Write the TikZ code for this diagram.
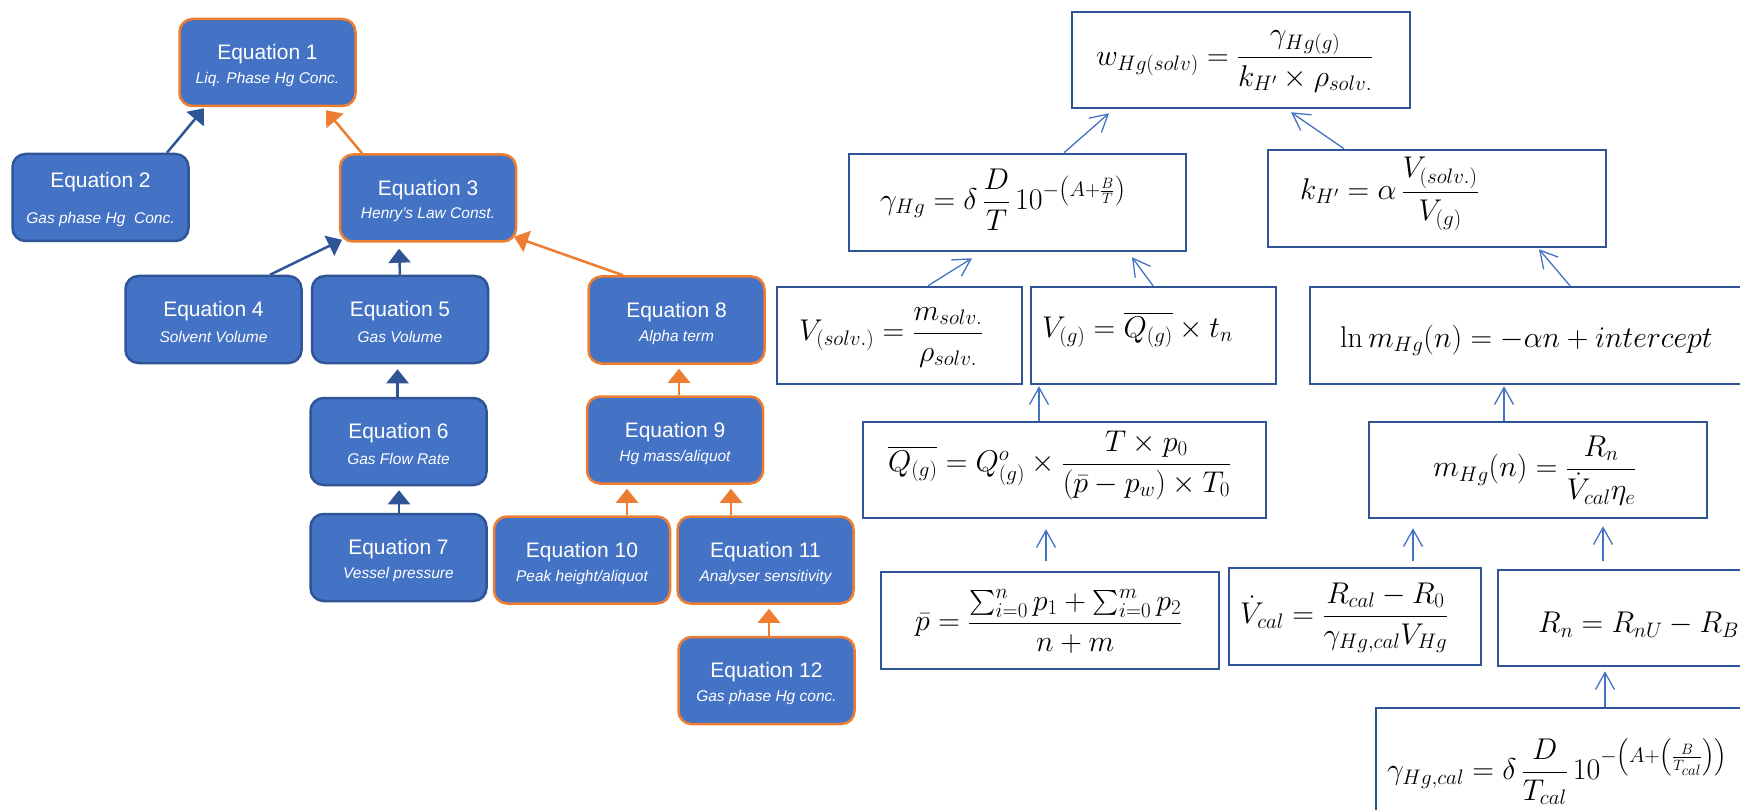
\RequirePackage{fix-cm}
\documentclass[tikz,border=0pt]{standalone}
\usepackage[no-math]{fontspec}
\newfontfamily\lsans{Liberation Sans}
\usepackage{amsmath}
\usetikzlibrary{arrows.meta,calc}
\definecolor{bfill}{HTML}{4472C4}
\definecolor{bdark}{HTML}{2F5597}
\definecolor{borange}{HTML}{ED7D31}
\definecolor{alight}{HTML}{4472C4}
\begin{document}
\begin{tikzpicture}[x=1pt,y=-1pt,
  lbox/.style={draw=bdark, fill=bfill, line width=2.5pt, rounded corners=13pt, minimum width=176pt, minimum height=87pt, inner sep=0pt},
  obox/.style={lbox, draw=borange},
  ttl/.style={text=white, font=\lsans\fontsize{21}{24}\selectfont, inner sep=0pt},
  subt/.style={text=white, font=\lsans\itshape\fontsize{15.5}{18}\selectfont, inner sep=0pt},
  barrow/.style={draw=bdark, line width=2.5pt, -{Triangle[width=22pt,length=14pt]}},
  oarrow/.style={barrow, draw=borange},
  fbox/.style={draw=bdark, line width=2.5pt, inner sep=0pt},
  feq/.style={font=\fontsize{30}{36}\selectfont, inner sep=0pt, anchor=base west},
  farrow/.style={draw=alight, line width=1.3pt, -{Straight Barb[length=17pt,width=19pt]}},
]
\useasboundingbox (0,0) rectangle (1740,810);
\clip (0,0) rectangle (1740,810);

% ---------- left tree ----------
\node[obox] (e1) at (267.5,62.5) {};
\node[lbox] (e2) at (100.5,197.5) {};
\node[obox] (e3) at (428,198) {};
\node[lbox] (e4) at (213.5,319.5) {};
\node[lbox] (e5) at (400,319.5) {};
\node[lbox] (e6) at (398.5,441.5) {};
\node[lbox] (e7) at (398.5,557.5) {};
\node[obox] (e8) at (676.5,320) {};
\node[obox] (e9) at (675,440) {};
\node[obox] (e10) at (582,560) {};
\node[obox] (e11) at (765.5,560) {};
\node[obox] (e12) at (766.5,680.5) {};

\node[ttl] (t1) at ($(e1)+(0,-8)$) {Equation 1};
\node[subt] (s1) at ($(e1)+(0,17)$) {Liq. Phase Hg Conc.};
\node[ttl] (t2) at ($(e2)+(0,-15)$) {Equation 2};
\node[subt] (s2) at ($(e2)+(0,22)$) {Gas phase Hg\ \ Conc.};
\node[ttl] (t3) at ($(e3)+(0,-8)$) {Equation 3};
\node[subt] (s3) at ($(e3)+(0,17)$) {Henry’s Law Const.};
\node[ttl] (t4) at ($(e4)+(0,-8)$) {Equation 4};
\node[subt] (s4) at ($(e4)+(0,17)$) {Solvent Volume};
\node[ttl] (t5) at ($(e5)+(0,-8)$) {Equation 5};
\node[subt] (s5) at ($(e5)+(0,17)$) {Gas Volume};
\node[ttl] (t6) at ($(e6)+(0,-8)$) {Equation 6};
\node[subt] (s6) at ($(e6)+(0,17)$) {Gas Flow Rate};
\node[ttl] (t7) at ($(e7)+(0,-8)$) {Equation 7};
\node[subt] (s7) at ($(e7)+(0,17)$) {Vessel pressure};
\node[ttl] (t8) at ($(e8)+(0,-8)$) {Equation 8};
\node[subt] (s8) at ($(e8)+(0,17)$) {Alpha term};
\node[ttl] (t9) at ($(e9)+(0,-8)$) {Equation 9};
\node[subt] (s9) at ($(e9)+(0,17)$) {Hg mass/aliquot};
\node[ttl] (t10) at ($(e10)+(0,-8)$) {Equation 10};
\node[subt] (s10) at ($(e10)+(0,17)$) {Peak height/aliquot};
\node[ttl] (t11) at ($(e11)+(0,-8)$) {Equation 11};
\node[subt] (s11) at ($(e11)+(0,17)$) {Analyser sensitivity};
\node[ttl] (t12) at ($(e12)+(0,-8)$) {Equation 12};
\node[subt] (s12) at ($(e12)+(0,17)$) {Gas phase Hg conc.};

\draw[barrow] ($(e2.north)+(66.5,0)$) -- ($(e1.south)+(-63.5,1)$);
\draw[oarrow] ($(e3.north)+(-66,0)$) -- ($(e1.south)+(58.5,3)$);
\draw[barrow] ($(e4.north)+(56.5,0)$) -- ($(e3.south)+(-86,-3)$);
\draw[barrow] (e5.north) -- ($(e3.south)+(-29,6)$);
\draw[oarrow] ($(e8.north)+(-53.5,0)$) -- ($(e3.south)+(86,-6)$);
\draw[barrow] ($(e6.north)+(-1,0)$) -- ($(e5.south)+(-2.5,5)$);
\draw[barrow] ($(e7.north)+(0.5,0)$) -- ($(e6.south)+(0.5,4)$);
\draw[oarrow] ($(e9.north)+(4,0)$) -- ($(e8.south)+(2.5,4)$);
\draw[oarrow] ($(e10.north)+(45,0)$) -- ($(e9.south)+(-48,4)$);
\draw[oarrow] ($(e11.north)+(-34.5,0)$) -- ($(e9.south)+(56,4)$);
\draw[oarrow] ($(e12.north)+(2.5,0)$) -- ($(e11.south)+(3.5,4)$);

% ---------- right formula boxes ----------
\node[fbox, minimum width=338pt, minimum height=96pt] (bW) at (1241,60) {};
\node[fbox, minimum width=337pt, minimum height=97pt] (bG) at (1017.5,202.5) {};
\node[fbox, minimum width=338pt, minimum height=97pt] (bK) at (1437,198.5) {};
\node[fbox, minimum width=245pt, minimum height=97pt] (bVs) at (899.5,335.5) {};
\node[fbox, minimum width=245pt, minimum height=97pt] (bVg) at (1153.5,335.5) {};
\node[fbox, minimum width=470pt, minimum height=97pt] (bL) at (1545,335.5) {};
\node[fbox, minimum width=403pt, minimum height=96pt] (bQ) at (1064.5,470) {};
\node[fbox, minimum width=338pt, minimum height=96pt] (bM) at (1538,470) {};
\node[fbox, minimum width=338pt, minimum height=97pt] (bP) at (1050,620.5) {};
\node[fbox, minimum width=252pt, minimum height=97pt] (bVc) at (1355,616.5) {};
\node[fbox, minimum width=282pt, minimum height=96pt] (bR) at (1639,618) {};
\node[fbox, minimum width=424pt, minimum height=152pt] (bGc) at (1588,784) {};

\node[feq] (fW) at (1096,65.5) {$w_{Hg(solv)}=\dfrac{\gamma_{Hg(g)}}{k_{H'}\times\rho_{solv.}}$};
\node[feq] (fG) at (880,209.5) {$\gamma_{Hg}=\delta\,\dfrac{D}{T}\,10^{-\left(A+\frac{B}{T}\right)}$};
\node[feq] (fK) at (1300,199.5) {$k_{H'}=\alpha\,\dfrac{V_{(solv.)}}{V_{(g)}}$};
\node[feq] (fVs) at (799,340.5) {$V_{(solv.)}=\dfrac{m_{solv.}}{\rho_{solv.}}$};
\node[feq] (fVg) at (1042,337.5) {$V_{(g)}=\overline{Q_{(g)}}\times t_n$};
\node[feq] (fL) at (1340,347.5) {$\ln m_{Hg}(n)=-\alpha n+intercept$};
\node[feq] (fQ) at (888,471.5) {$\overline{Q_{(g)}}=Q^{o}_{(g)}\times\dfrac{T\times p_0}{(\bar{p}-p_w)\times T_0}$};
\node[feq] (fM) at (1433,476.5) {$m_{Hg}(n)=\dfrac{R_n}{\dot{V}_{cal}\eta_e}$};
\node[feq] (fP) at (915,630.5) {$\bar{p}=\dfrac{\sum_{i=0}^{n}p_1+\sum_{i=0}^{m}p_2}{n+m}$};
\node[feq] (fVc) at (1240,623.5) {$\dot{V}_{cal}=\dfrac{R_{cal}-R_0}{\gamma_{Hg,cal}V_{Hg}}$};
\node[feq] (fR) at (1538,632.5) {$R_n=R_{nU}-R_B$};
\node[feq] (fGc) at (1387,779.5) {$\gamma_{Hg,cal}=\delta\,\dfrac{D}{T_{cal}}\,10^{-\left(A+\left(\frac{B}{T_{cal}}\right)\right)}$};

\draw[farrow] ($(bG.north)+(46.5,0)$) -- ($(bW.south)+(-132,4)$);
\draw[farrow] ($(bK.north)+(-93,0)$) -- ($(bW.south)+(50,3)$);
\draw[farrow] ($(bVs.north)+(28.5,0)$) -- ($(bG.south)+(-45.5,6)$);
\draw[farrow] ($(bVg.north)+(-0.5,0)$) -- ($(bG.south)+(114.5,5)$);
\draw[farrow] ($(bL.north)+(25,0)$) -- ($(bK.south)+(102,1)$);
\draw[farrow] ($(bQ.north)+(-25.5,0)$) -- ($(bVg.south)+(-114.5,1)$);
\draw[farrow] ($(bM.north)+(-34,0)$) -- ($(bL.south)+(-41,1)$);
\draw[farrow] ($(bP.north)+(-4,-10)$) -- ($(bQ.south)+(-18.5,10)$);
\draw[farrow] ($(bVc.north)+(58,-6)$) -- ($(bM.south)+(-125,9)$);
\draw[farrow] ($(bR.north)+(-36,-8)$) -- ($(bM.south)+(65,7)$);
\draw[farrow] ($(bGc.north)+(17,0)$) -- ($(bR.south)+(-34,4)$);
\end{tikzpicture}
\end{document}
